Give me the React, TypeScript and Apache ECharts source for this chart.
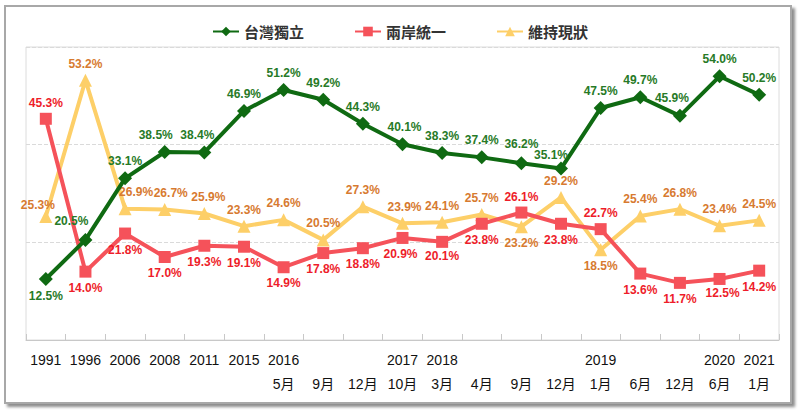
import React, { useEffect, useRef } from "react";
import * as echarts from "echarts";

const years = ["1991", "1996", "2006", "2008", "2011", "2015", "2016", "", "", "2017", "2018", "", "", "", "2019", "", "", "2020", "2021"];
const months = ["", "", "", "", "", "", "5月", "9月", "12月", "10月", "3月", "4月", "9月", "12月", "1月", "6月", "12月", "6月", "1月"];

const independence = [12.5, 20.5, 33.1, 38.5, 38.4, 46.9, 51.2, 49.2, 44.3, 40.1, 38.3, 37.4, 36.2, 35.1, 47.5, 49.7, 45.9, 54.0, 50.2];
const unification = [45.3, 14.0, 21.8, 17.0, 19.3, 19.1, 14.9, 17.8, 18.8, 20.9, 20.1, 23.8, 26.1, 23.8, 22.7, 13.6, 11.7, 12.5, 14.2];
const statusQuo = [25.3, 53.2, 26.9, 26.7, 25.9, 23.3, 24.6, 20.5, 27.3, 23.9, 24.1, 25.7, 23.2, 29.2, 18.5, 25.4, 26.8, 23.4, 24.5];

// label placement (style only)
const greenPos = ["bottom", "top", "top", "top", "top", "top", "top", "top", "top", "top", "top", "top", "top", "top", "top", "top", "top", "top", "top"];
const greenOff: number[][] = [[0, 0], [-14, -2], [0, 0], [-9, 0], [-7, 0], [0, 0], [0, 0], [0, 0], [0, 0], [2, 0], [0, 0], [0, 0], [0, -2], [-10, 3], [0, 0], [0, 0], [-8, -1], [0, 0], [0, 0]];
const redPos = ["top", "bottom", "bottom", "bottom", "bottom", "bottom", "bottom", "bottom", "bottom", "bottom", "bottom", "bottom", "top", "bottom", "top", "bottom", "bottom", "bottom", "bottom"];
const redOff: number[][] = [[0, 0], [0, 0], [0, 0], [0, 0], [0, 0], [0, 0], [0, 0], [0, 0], [0, 0], [-2, 0], [0, -2], [0, 0], [0, 0], [0, 0], [0, 0], [0, 0], [0, 0], [3, -2], [0, 0]];
const yellowPos = ["top", "top", "top", "top", "top", "top", "top", "top", "top", "top", "top", "top", "bottom", "top", "bottom", "top", "top", "top", "top"];
const yellowOff: number[][] = [[-8, 5], [0, 0], [11, 0], [6, 0], [4, 0], [0, 0], [0, 0], [0, 0], [0, 0], [2, 0], [0, 0], [0, 0], [0, 0], [0, 0], [0, 0], [0, 0], [0, 0], [0, 0], [0, 0]];

const build = (vals: number[], pos: string[], off: number[][]) =>
  vals.map((v, i) => ({ value: v, label: { position: pos[i], offset: off[i] } }));

export default function App() {
  const ref = useRef<HTMLDivElement>(null);
  useEffect(() => {
    if (!ref.current) return;
    const chart = echarts.init(ref.current, undefined, { renderer: "svg" });
    const labelBase = {
      show: true,
      formatter: (p: any) => `${Number(p.value).toFixed(1)}%`,
      fontSize: 12,
      fontWeight: "bold" as const,
      fontFamily: "Liberation Sans, Arial, sans-serif",
      distance: 4,
    };
    chart.setOption({
      animation: false,
      backgroundColor: "#ffffff",
      graphic: [
        {
          type: "rect",
          z: -10,
          silent: true,
          shape: { x: 5, y: 6, width: 786, height: 397 },
          style: {
            fill: "#ffffff",
            stroke: "#a8a8a8",
            lineWidth: 2,
            shadowBlur: 3,
            shadowOffsetX: 3,
            shadowOffsetY: 3,
            shadowColor: "rgba(0,0,0,0.45)",
          },
        },
      ],
      legend: {
        top: 19,
        left: "center",
        itemWidth: 26,
        itemHeight: 12,
        itemGap: 50,
        textStyle: {
          fontSize: 15,
          fontWeight: "bold",
          color: "#333",
          fontFamily: "Noto Sans CJK TC, sans-serif",
        },
        data: ["台灣獨立", "兩岸統一", "維持現狀"],
      },
      grid: {
        left: 26,
        top: 47,
        right: 21,
        bottom: 72,
        show: true,
        borderColor: "#dcdcdc",
        borderWidth: 1,
        backgroundColor: "#ffffff",
      },
      xAxis: {
        type: "category",
        data: years.map((y, i) => `${y}\n${months[i]}`),
        boundaryGap: true,
        axisLine: { lineStyle: { color: "#c8c8c8", width: 1 } },
        axisTick: { show: true, inside: true, length: 6, lineStyle: { color: "#c8c8c8" } },
        axisLabel: {
          interval: 0,
          margin: 8,
          lineHeight: 24,
          fontSize: 14,
          color: "#111",
          fontFamily: "Liberation Sans, Arial, Noto Sans CJK TC, sans-serif",
        },
      },
      yAxis: {
        type: "value",
        min: 0,
        max: 60,
        interval: 20,
        axisLabel: { show: false },
        axisLine: { show: false },
        axisTick: { show: false },
        splitLine: { lineStyle: { color: "#dadada", type: "dashed" } },
      },
      series: [
        {
          name: "台灣獨立",
          type: "line",
          z: 4,
          data: build(independence, greenPos, greenOff),
          symbol: "diamond",
          symbolSize: 14,
          lineStyle: { color: "#0f6a12", width: 4 },
          itemStyle: { color: "#0f6a12" },
          label: { ...labelBase, color: "#277a27" },
        },
        {
          name: "兩岸統一",
          type: "line",
          z: 3,
          data: build(unification, redPos, redOff),
          symbol: "rect",
          symbolSize: 12,
          lineStyle: { color: "#f5525a", width: 4 },
          itemStyle: { color: "#f5525a" },
          label: { ...labelBase, color: "#ee1d2a" },
        },
        {
          name: "維持現狀",
          type: "line",
          z: 2,
          data: build(statusQuo, yellowPos, yellowOff),
          symbol: "triangle",
          symbolSize: 13,
          lineStyle: { color: "#fdcf68", width: 4 },
          itemStyle: { color: "#fdcf68" },
          label: { ...labelBase, color: "#d77a30" },
        },
      ],
    });
    return () => chart.dispose();
  }, []);
  return (
    <div style={{ position: "fixed", left: 0, top: 0, width: 800, height: 412, background: "#fff" }}>
      <div ref={ref} style={{ width: 800, height: 412 }} />
    </div>
  );
}
